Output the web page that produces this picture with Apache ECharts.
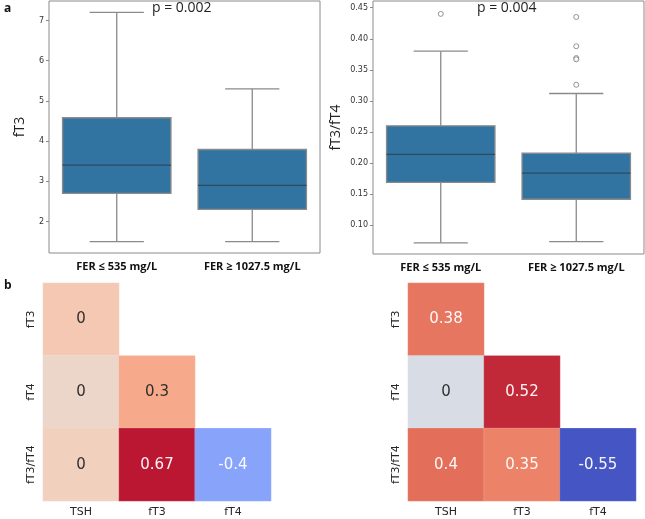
<!DOCTYPE html>
<html>
<head>
<meta charset="utf-8">
<script src="https://cdn.jsdelivr.net/npm/echarts@6/dist/echarts.min.js"></script>
<style>
  html, body { margin: 0; padding: 0; background: #fff; }
  #chart { width: 645px; height: 519px; }
</style>
</head>
<body>
<div id="chart"></div>
<script>
// panel a: box plots, [min, q1, median, q3, max]
const groups = ['FER ≤ 535 mg/L', 'FER ≥ 1027.5 mg/L'];
const ft3Boxes = [
  [1.5, 2.7, 3.4, 4.58, 7.2],
  [1.5, 2.3, 2.9, 3.79, 5.3],
];
const ratioBoxes = [
  [0.072, 0.169, 0.214, 0.260, 0.380],
  [0.074, 0.142, 0.184, 0.216, 0.312],
];
const ratioOutliers = [
  [0, 0.440],
  [1, 0.435], [1, 0.388], [1, 0.369], [1, 0.367], [1, 0.326],
];
const ft3Ticks = [2, 3, 4, 5, 6, 7];
const ratioTicks = [0.10, 0.15, 0.20, 0.25, 0.30, 0.35, 0.40, 0.45];
const pLeft = 'p = 0.002';
const pRight = 'p = 0.004';

// panel b: lower-triangle correlations
const heatCols = ['TSH', 'fT3', 'fT4'];
const heatRows = ['fT3', 'fT4', 'fT3/fT4'];
// [col, row, shade value, printed value]
const leftCells = [
  [0, 0, 0.16, '0'],
  [0, 1, 0.08, '0'],
  [1, 1, 0.30, '0.3'],
  [0, 2, 0.12, '0'],
  [1, 2, 0.66, '0.67'],
  [2, 2, -0.38, '-0.4'],
];
const rightCells = [
  [0, 0, 0.38, '0.38'],
  [0, 1, -0.03, '0'],
  [1, 1, 0.52, '0.52'],
  [0, 2, 0.40, '0.4'],
  [1, 2, 0.35, '0.35'],
  [2, 2, -0.55, '-0.55'],
];

const coolwarm = [
  '#3b4cc0', '#4d68d7', '#6282ea', '#778ef7', '#8db0fe', '#a3c2ff',
  '#b8d0f9', '#ccd9ee', '#dddddd', '#ecd3c5', '#f5c4ad', '#f7b194',
  '#f49a7b', '#ec7f63', '#de604d', '#cb3e38', '#b40426'
];

const chart = echarts.init(document.getElementById('chart'));

const boxColor = '#3274a1';
const lineGray = '#8a8a8a';

function renderBox(params, api) {
  const cat = api.value(0);
  const vals = [api.value(1), api.value(2), api.value(3), api.value(4), api.value(5)];
  const band = api.size([1, 0])[0];
  const half = band * 0.4;
  const cap = band * 0.2;
  const p = vals.map(v => api.coord([cat, v]));
  const cx = p[0][0];
  const style = { stroke: lineGray, lineWidth: 1.3 };
  return {
    type: 'group',
    children: [
      { type: 'line', shape: { x1: cx, y1: p[0][1], x2: cx, y2: p[1][1] }, style },
      { type: 'line', shape: { x1: cx, y1: p[3][1], x2: cx, y2: p[4][1] }, style },
      { type: 'line', shape: { x1: cx - cap, y1: p[0][1], x2: cx + cap, y2: p[0][1] }, style },
      { type: 'line', shape: { x1: cx - cap, y1: p[4][1], x2: cx + cap, y2: p[4][1] }, style },
      {
        type: 'rect',
        shape: { x: cx - half, y: p[3][1], width: half * 2, height: p[1][1] - p[3][1] },
        style: { fill: boxColor, stroke: lineGray, lineWidth: 1.3 }
      },
      {
        type: 'line',
        shape: { x1: cx - half, y1: p[2][1], x2: cx + half, y2: p[2][1] },
        style: { stroke: '#2c4a60', lineWidth: 1.3 }
      }
    ]
  };
}

function boxData(rows) {
  return rows.map((r, i) => [i].concat(r));
}

const tickLabelStyle = { fontFamily: 'DejaVu Sans', fontSize: 8, color: '#333' };
const catLabelStyle = { fontFamily: 'Open Sans', fontWeight: 'bold', fontSize: 11, color: '#111', margin: 8 };
const heatLabel = { fontFamily: 'DejaVu Sans', fontSize: 11, color: '#262626' };

function heatSeries(cells, idx) {
  return {
    type: 'heatmap',
    xAxisIndex: idx,
    yAxisIndex: idx,
    data: cells.map(c => ({
      value: [c[0], c[1], c[2]],
      text: c[3],
      label: { color: Math.abs(c[2]) > 0.33 ? '#ffffff' : '#262626' }
    })),
    itemStyle: { borderColor: 'rgba(255,255,255,0.35)', borderWidth: 0.5, opacity: 0.95 },
    label: {
      show: true,
      fontFamily: 'DejaVu Sans',
      fontSize: 15,
      formatter: p => p.data.text
    },
    emphasis: { disabled: true }
  };
}

const option = {
  animation: false,
  backgroundColor: '#fff',
  grid: [
    { left: 49, top: 1, width: 271, height: 252, show: true, borderColor: lineGray, borderWidth: 1 },
    { left: 373, top: 1, width: 271, height: 253, show: true, borderColor: lineGray, borderWidth: 1 },
    { left: 43, top: 283, width: 228, height: 218 },
    { left: 408, top: 283, width: 228, height: 218 }
  ],
  xAxis: [
    {
      gridIndex: 0, type: 'category', data: groups,
      axisLine: { show: false },
      axisTick: { alignWithLabel: true, length: 3, lineStyle: { color: lineGray } },
      axisLabel: catLabelStyle
    },
    {
      gridIndex: 1, type: 'category', data: groups,
      axisLine: { show: false },
      axisTick: { alignWithLabel: true, length: 3, lineStyle: { color: lineGray } },
      axisLabel: catLabelStyle
    },
    {
      gridIndex: 2, type: 'category', data: heatCols,
      axisLine: { show: false },
      axisTick: { alignWithLabel: true, length: 3, lineStyle: { color: '#bbb' } },
      axisLabel: Object.assign({ margin: 6 }, heatLabel)
    },
    {
      gridIndex: 3, type: 'category', data: heatCols,
      axisLine: { show: false },
      axisTick: { alignWithLabel: true, length: 3, lineStyle: { color: '#bbb' } },
      axisLabel: Object.assign({ margin: 6 }, heatLabel)
    }
  ],
  yAxis: [
    {
      gridIndex: 0, type: 'value', min: 1.215, max: 7.485,
      name: 'fT3', nameLocation: 'middle', nameGap: 22,
      nameTextStyle: { fontFamily: 'Open Sans', fontSize: 14, color: '#222' },
      splitLine: { show: false },
      axisLine: { show: false },
      axisTick: { show: true, length: 3, customValues: ft3Ticks, lineStyle: { color: lineGray } },
      axisLabel: Object.assign({ customValues: ft3Ticks, margin: 5 }, tickLabelStyle)
    },
    {
      gridIndex: 1, type: 'value', min: 0.054, max: 0.4607,
      name: 'fT3/fT4', nameLocation: 'middle', nameGap: 30,
      nameTextStyle: { fontFamily: 'Open Sans', fontSize: 14, color: '#222' },
      splitLine: { show: false },
      axisLine: { show: false },
      axisTick: { show: true, length: 3, customValues: ratioTicks, lineStyle: { color: lineGray } },
      axisLabel: Object.assign({ customValues: ratioTicks, margin: 5, formatter: v => v.toFixed(2) }, tickLabelStyle)
    },
    {
      gridIndex: 2, type: 'category', data: heatRows, inverse: true,
      axisLine: { show: false },
      axisTick: { alignWithLabel: true, length: 3, lineStyle: { color: '#bbb' } },
      axisLabel: Object.assign({ rotate: 90, margin: 6 }, heatLabel)
    },
    {
      gridIndex: 3, type: 'category', data: heatRows, inverse: true,
      axisLine: { show: false },
      axisTick: { alignWithLabel: true, length: 3, lineStyle: { color: '#bbb' } },
      axisLabel: Object.assign({ rotate: 90, margin: 6 }, heatLabel)
    }
  ],
  visualMap: [
    { show: false, seriesIndex: 3, min: -0.67, max: 0.67, dimension: 2, inRange: { color: coolwarm } },
    { show: false, seriesIndex: 4, min: -0.55, max: 0.55, dimension: 2, inRange: { color: coolwarm } }
  ],
  graphic: [
    { type: 'text', left: 4, top: 3, style: { text: 'a', font: 'bold 12px "Open Sans"', fill: '#111' } },
    { type: 'text', left: 4, top: 280, style: { text: 'b', font: 'bold 12px "Open Sans"', fill: '#111' } },
    { type: 'text', left: 152, top: 1, style: { text: pLeft, font: '14px "Open Sans"', fill: '#222' } },
    { type: 'text', left: 477, top: 1, style: { text: pRight, font: '14px "Open Sans"', fill: '#222' } }
  ],
  series: [
    { type: 'custom', xAxisIndex: 0, yAxisIndex: 0, renderItem: renderBox, data: boxData(ft3Boxes), encode: { x: 0, y: [1, 2, 3, 4, 5] } },
    { type: 'custom', xAxisIndex: 1, yAxisIndex: 1, renderItem: renderBox, data: boxData(ratioBoxes), encode: { x: 0, y: [1, 2, 3, 4, 5] } },
    {
      type: 'scatter', xAxisIndex: 1, yAxisIndex: 1, data: ratioOutliers,
      symbol: 'circle', symbolSize: 5, z: 5,
      itemStyle: { color: '#ffffff', borderColor: '#7a7a7a', borderWidth: 1 }
    },
    heatSeries(leftCells, 2),
    heatSeries(rightCells, 3)
  ]
};

chart.setOption(option);
</script>
</body>
</html>
